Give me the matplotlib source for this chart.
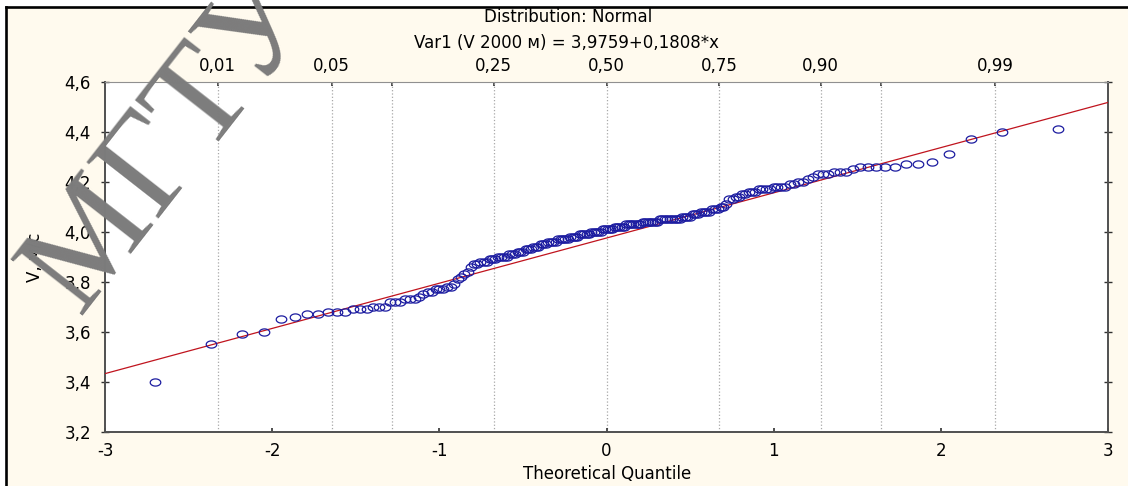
import numpy as np
import matplotlib.pyplot as plt
from matplotlib.path import Path
from matplotlib.lines import Line2D
from matplotlib.patches import Rectangle
from statistics import NormalDist

v_sorted = [3.40, 3.55, 3.59, 3.60, 3.65, 3.66, 3.67, 3.67, 3.68, 3.68,
            3.68, 3.69, 3.69, 3.69, 3.70, 3.70, 3.70, 3.72, 3.72, 3.72,
            3.73, 3.73, 3.73, 3.74, 3.75, 3.76, 3.76, 3.77, 3.77, 3.77,
            3.78, 3.78, 3.79, 3.81, 3.82, 3.83, 3.84, 3.86, 3.87, 3.87,
            3.88, 3.88, 3.88, 3.89, 3.89, 3.89, 3.90, 3.90, 3.90, 3.90,
            3.91, 3.91, 3.91, 3.92, 3.92, 3.92, 3.93, 3.93, 3.93, 3.94,
            3.94, 3.94, 3.95, 3.95, 3.95, 3.96, 3.96, 3.96, 3.96, 3.97,
            3.97, 3.97, 3.97, 3.97, 3.98, 3.98, 3.98, 3.98, 3.99, 3.99,
            3.99, 3.99, 3.99, 4.00, 4.00, 4.00, 4.00, 4.00, 4.01, 4.01,
            4.01, 4.01, 4.01, 4.02, 4.02, 4.02, 4.02, 4.02, 4.03, 4.03,
            4.03, 4.03, 4.03, 4.03, 4.03, 4.04, 4.04, 4.04, 4.04, 4.04,
            4.04, 4.04, 4.05, 4.05, 4.05, 4.05, 4.05, 4.05, 4.05, 4.05,
            4.05, 4.06, 4.06, 4.06, 4.06, 4.07, 4.07, 4.07, 4.08, 4.08,
            4.08, 4.08, 4.09, 4.09, 4.09, 4.10, 4.10, 4.11, 4.13, 4.13,
            4.14, 4.14, 4.15, 4.15, 4.16, 4.16, 4.16, 4.17, 4.17, 4.17,
            4.17, 4.18, 4.18, 4.18, 4.18, 4.19, 4.19, 4.20, 4.20, 4.21,
            4.22, 4.23, 4.23, 4.23, 4.24, 4.24, 4.24, 4.25, 4.26, 4.26,
            4.26, 4.26, 4.26, 4.27, 4.27, 4.28, 4.31, 4.37, 4.40, 4.41]

intercept = 3.9759
slope = 0.1808

x_ticks = [-3, -2, -1, 0, 1, 2, 3]
y_ticks = [3.2, 3.4, 3.6, 3.8, 4.0, 4.2, 4.4, 4.6]
y_labels = ['3,2', '3,4', '3,6', '3,8', '4,0', '4,2', '4,4', '4,6']
prob_ticks = [0.01, 0.05, 0.10, 0.25, 0.50, 0.75, 0.90, 0.95, 0.99]
prob_labels = ['0,01', '0,05', '', '0,25', '0,50', '0,75', '0,90', '', '0,99']

plt.rcParams['font.family'] = ['DejaVu Sans']
FS = 12
W, H = 1128, 486

# theoretical quantiles (Blom)
nd = NormalDist()
n = len(v_sorted)
q = [nd.inv_cdf((i - 0.375) / (n + 0.25)) for i in range(1, n + 1)]
prob_pos = [nd.inv_cdf(p) for p in prob_ticks]

fig = plt.figure(figsize=(W / 100, H / 100), dpi=100, facecolor='white')
fig.patches.append(Rectangle((6 / W, 0), 1, 1 - 7 / H, transform=fig.transFigure,
                             facecolor='#FFFAEE', edgecolor='none', zorder=-5))
fig.lines.append(Line2D([6 / W, 1], [1 - 7 / H, 1 - 7 / H], transform=fig.transFigure,
                        color='black', lw=1.9))
fig.lines.append(Line2D([6 / W, 6 / W], [0, 1 - 7 / H], transform=fig.transFigure,
                        color='black', lw=1.9))

ax = fig.add_axes([105 / W, 1 - 432 / H, (1108 - 105) / W, (432 - 82) / H])
ax.set_facecolor('white')

for xp in prob_pos:
    ax.axvline(xp, color='#A8A8A8', lw=0.9, ls=':', zorder=1)

xl = np.array([-3, 3])
ax.plot(xl, intercept + slope * xl, color='#C0141E', lw=0.9, zorder=3)

th = np.linspace(0, 2 * np.pi, 41)
ell = Path(np.column_stack([np.cos(th), 0.68 * np.sin(th)]), closed=True)
ax.plot(q, v_sorted, ls='none', marker=ell, markersize=7.6, markerfacecolor='none',
        markeredgecolor='#1C1CA0', markeredgewidth=0.9, zorder=4)

ax.set_xlim(-3, 3)
ax.set_ylim(3.2, 4.6)
ax.set_xticks(x_ticks)
ax.set_xticklabels([str(t) for t in x_ticks], fontsize=FS)
ax.set_yticks(y_ticks)
ax.set_yticklabels(y_labels, fontsize=FS)
ax.tick_params(axis='x', direction='in', length=3, width=1.2, color='#303030', pad=7)
ax.tick_params(axis='y', direction='inout', length=6, width=1.0, color='#303030', pad=7,
               right=True, labelright=False)

for s in ['left', 'bottom', 'right']:
    ax.spines[s].set_color('#505050')
    ax.spines[s].set_linewidth(1.4)
ax.spines['top'].set_color('#909090')
ax.spines['top'].set_linewidth(0.8)

top = ax.secondary_xaxis('top')
top.set_xticks(prob_pos)
top.set_xticklabels(prob_labels, fontsize=FS)
top.tick_params(direction='in', length=3, width=1.2, color='#303030', pad=5)
top.spines['top'].set_visible(False)

fig.text(568 / W, 1 - 17 / H, 'Distribution: Normal', fontsize=FS, ha='center', va='center')
fig.text(567 / W, 1 - 43 / H, 'Var1 (V 2000 м) = 3,9759+0,1808*x', fontsize=FS,
         ha='center', va='center')
fig.text(607 / W, 1 - 474 / H, 'Theoretical Quantile', fontsize=FS, ha='center', va='center')
fig.text(35 / W, 1 - 257 / H, 'V, м/с', fontsize=FS, ha='center', va='center', rotation=90)

# watermark
fig.text(172 / W, 1 - 142 / H, 'МГТУ', fontsize=100, family='Liberation Serif',
         color='#7C7C7C', ha='center', va='center', rotation=52, zorder=10)

plt.savefig('out.png', dpi=100)
